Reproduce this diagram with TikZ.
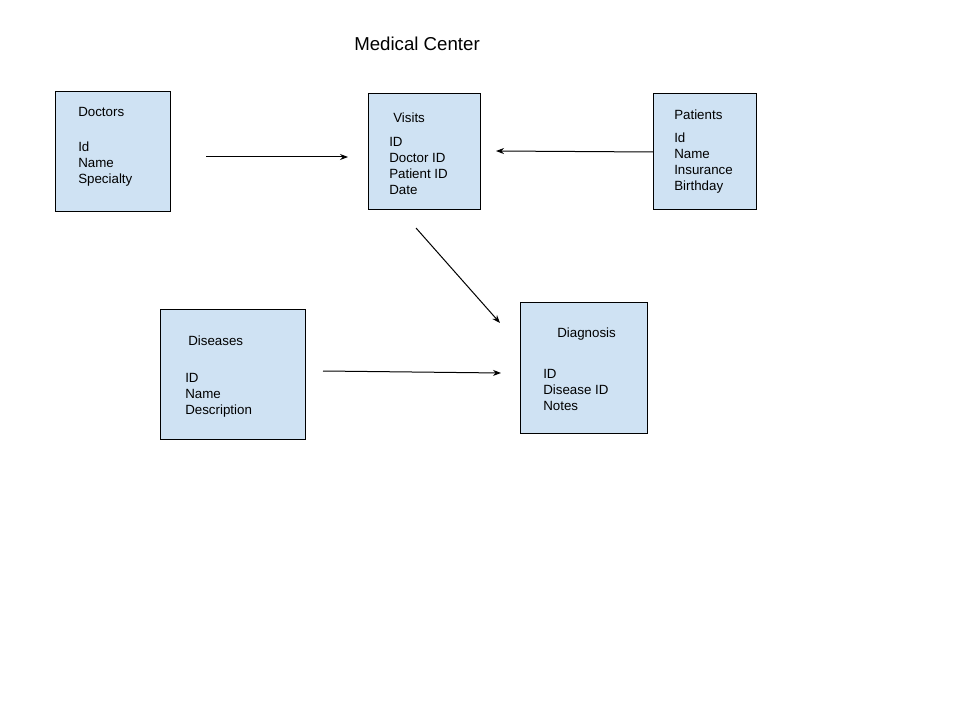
\documentclass[tikz,border=0pt]{standalone}
\usepackage{fontspec}
\setmainfont{Liberation Sans}
\usetikzlibrary{arrows.meta}
\definecolor{boxfill}{HTML}{CFE2F3}
\tikzset{
  ent/.style={draw=black, fill=boxfill, line width=0.75pt},
  lbl/.style={anchor=base west, inner sep=0pt, font=\fontsize{10pt}{12pt}\selectfont},
  conn/.style={line width=0.75pt, -{Stealth[length=6pt,width=4.5pt]}}
}
\begin{document}
\begin{tikzpicture}[x=0.75pt,y=-0.75pt]
\useasboundingbox (0,0) rectangle (960,720);
% title
\node[lbl, font=\fontsize{14pt}{16pt}\selectfont] (title) at (354,51) {Medical Center};
% boxes
\path[ent] (55,92) rectangle (170,212);
\node[inner sep=0pt] (doc) at (112.5,152) {};
\path[ent] (368,94) rectangle (480,210);
\node[inner sep=0pt] (vis) at (424,152) {};
\path[ent] (653,94) rectangle (756,210);
\node[inner sep=0pt] (pat) at (704.5,152) {};
\path[ent] (160,309.5) rectangle (305,439);
\node[inner sep=0pt] (dis) at (232.5,374) {};
\path[ent] (520,303) rectangle (647,433);
\node[inner sep=0pt] (dia) at (583.5,368) {};
% Doctors
\node[lbl] (d0) at (78,117) {Doctors};
\node[lbl] (d1) at (78,152) {Id};
\node[lbl] (d2) at (78,168) {Name};
\node[lbl] (d3) at (78,184) {Specialty};
% Visits
\node[lbl] (v0) at (393,123) {Visits};
\node[lbl] (v1) at (389,147) {ID};
\node[lbl] (v2) at (389,163) {Doctor ID};
\node[lbl] (v3) at (389,179) {Patient ID};
\node[lbl] (v4) at (389,195) {Date};
% Patients
\node[lbl] (p0) at (674,120) {Patients};
\node[lbl] (p1) at (674,143) {Id};
\node[lbl] (p2) at (674,159) {Name};
\node[lbl] (p3) at (674,175) {Insurance};
\node[lbl] (p4) at (674,191) {Birthday};
% Diseases
\node[lbl] (s0) at (188,345) {Diseases};
\node[lbl] (s1) at (185,382) {ID};
\node[lbl] (s2) at (185,398) {Name};
\node[lbl] (s3) at (185,414) {Description};
% Diagnosis
\node[lbl] (g0) at (557,337) {Diagnosis};
\node[lbl] (g1) at (543,378) {ID};
\node[lbl] (g2) at (543,394) {Disease ID};
\node[lbl] (g3) at (543,410) {Notes};
% connectors
\coordinate (a1s) at (206,157);
\coordinate (a1e) at (348,157);
\coordinate (a2s) at (653,152);
\coordinate (a2e) at (496,151);
\coordinate (a3s) at (416,228);
\coordinate (a3e) at (500,323);
\coordinate (a4s) at (323,371);
\coordinate (a4e) at (501,373);
\draw[conn] (a1s) -- (a1e);
\draw[conn] (a2s) -- (a2e);
\draw[conn] (a3s) -- (a3e);
\draw[conn] (a4s) -- (a4e);
\end{tikzpicture}
\end{document}
